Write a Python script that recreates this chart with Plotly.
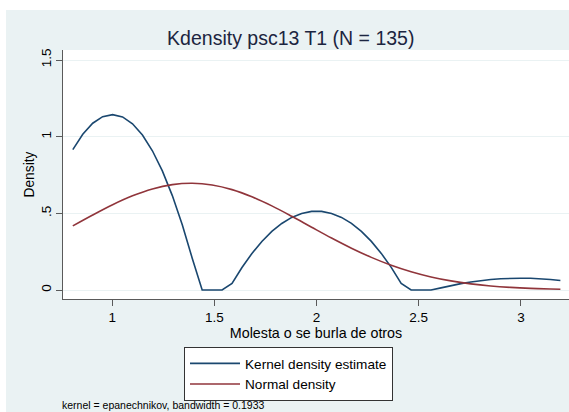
import plotly.graph_objects as go

# Evaluation grid shared by the kernel density estimate
grid_x = [0.8067, 0.8554, 0.9041, 0.9528, 1.0015, 1.0502, 1.0989, 1.1476, 1.1963, 1.2450,
          1.2938, 1.3425, 1.3912, 1.4399, 1.4886, 1.5373, 1.5860, 1.6347, 1.6834, 1.7321,
          1.7808, 1.8295, 1.8782, 1.9269, 1.9756, 2.0243, 2.0731, 2.1218, 2.1705, 2.2192,
          2.2679, 2.3166, 2.3653, 2.4140, 2.4627, 2.5114, 2.5601, 2.6088, 2.6575, 2.7062,
          2.7549, 2.8036, 2.8523, 2.9010, 2.9497, 2.9985, 3.0472, 3.0959, 3.1446, 3.1933]

kde_y = [0.9151, 1.0159, 1.0876, 1.1303, 1.1439, 1.1285, 1.0840, 1.0105, 0.9080, 0.7764,
         0.6157, 0.4261, 0.2073, 0.0, 0.0, 0.0, 0.0422, 0.1467, 0.2381, 0.3165,
         0.3818, 0.4340, 0.4732, 0.4994, 0.5125, 0.5125, 0.4995, 0.4734, 0.4343, 0.3821,
         0.3169, 0.2386, 0.1473, 0.0429, 0.0, 0.0, 0.0, 0.0139, 0.0286, 0.0414,
         0.0523, 0.0612, 0.0681, 0.0731, 0.0761, 0.0771, 0.0762, 0.0734, 0.0685, 0.0617]

normal_x = [0.8067, 0.9041, 1.0015, 1.0989, 1.1963, 1.2938, 1.3912, 1.4886, 1.5860, 1.6834,
            1.7808, 1.8782, 1.9756, 2.0731, 2.1705, 2.2679, 2.3653, 2.4627, 2.5601, 2.6575,
            2.7549, 2.8523, 2.9497, 3.0472, 3.1446, 3.1933]

normal_y = [0.4182, 0.4894, 0.5563, 0.6143, 0.6592, 0.6871, 0.6959, 0.6847, 0.6545, 0.6078,
            0.5485, 0.4808, 0.4095, 0.3388, 0.2724, 0.2127, 0.1614, 0.1190, 0.0852, 0.0593,
            0.0401, 0.0263, 0.0168, 0.0104, 0.0063, 0.0048]

x_ticks = [1, 1.5, 2, 2.5, 3]
x_tick_labels = ["1", "1.5", "2", "2.5", "3"]
y_ticks = [0, 0.5, 1, 1.5]
y_tick_labels = ["0", ".5", "1", "1.5"]

NAVY = "#1a476f"
MAROON = "#90353b"
REGION = "#eaf2f3"
FONT = "Liberation Sans, Arial, sans-serif"

fig = go.Figure()
fig.add_trace(go.Scatter(x=grid_x, y=kde_y, mode="lines", name="Kernel density estimate",
                         line=dict(color=NAVY, width=1.6)))
fig.add_trace(go.Scatter(x=normal_x, y=normal_y, mode="lines", name="Normal density",
                         line=dict(color=MAROON, width=1.6, shape="spline")))

fig.update_layout(
    width=569, height=412,
    margin=dict(l=63, r=0, t=50, b=113),
    paper_bgcolor=REGION,
    plot_bgcolor="white",
    font=dict(family=FONT, color="#000000", size=13),
    title=dict(text="Kdensity psc13 T1 (N = 135)", x=0.511, xref="container", xanchor="center",
               y=1 - 38 / 412, yref="container", yanchor="middle",
               font=dict(family=FONT, size=19.5, color="#1c2540")),
    showlegend=True,
    legend=dict(x=(184 - 63) / 506, y=(299 - 347) / 249, xanchor="left", yanchor="top",
                bgcolor="white", bordercolor="#333333", borderwidth=1,
                font=dict(family=FONT, size=13.6, color="#000000"),
                itemwidth=50, tracegroupgap=0),
    xaxis=dict(range=[0.7587, 3.2354], tickvals=x_ticks, ticktext=x_tick_labels,
               showgrid=False, zeroline=False, showline=True, linecolor="#5a5a5a", linewidth=1,
               ticks="outside", ticklen=6, tickcolor="#5a5a5a", tickfont=dict(size=13.5),
               title=dict(text="Molesta o se burla de otros", font=dict(size=14.3), standoff=2)),
    yaxis=dict(range=[-0.0587, 1.5652], tickvals=y_ticks, ticktext=y_tick_labels,
               tickangle=-90, showgrid=True, gridcolor=REGION, gridwidth=1,
               zeroline=False, showline=True, linecolor="#5a5a5a", linewidth=1,
               ticks="outside", ticklen=6, tickcolor="#5a5a5a", tickfont=dict(size=13.5),
               title=dict(text="Density", font=dict(size=13.8), standoff=0)),
    shapes=[
        # white strips framing the graph region
        dict(type="rect", xref="paper", yref="paper", x0=-63 / 506, x1=1.0,
             y0=(299 - 10) / 249, y1=299 / 249, fillcolor="white", line=dict(width=0), layer="below"),
        dict(type="rect", xref="paper", yref="paper", x0=-63 / 506, x1=(6 - 63) / 506,
             y0=(299 - 412) / 249, y1=299 / 249, fillcolor="white", line=dict(width=0), layer="below"),
    ],
    annotations=[
        dict(text="kernel = epanechnikov, bandwidth = 0.1933", xref="paper", yref="paper",
             x=(60 - 63) / 506, y=(299 - 404.5) / 249, xanchor="left", yanchor="middle",
             showarrow=False, font=dict(family=FONT, size=10.5, color="#000000")),
    ],
)

fig.write_html("out.html", config={"displayModeBar": False})
